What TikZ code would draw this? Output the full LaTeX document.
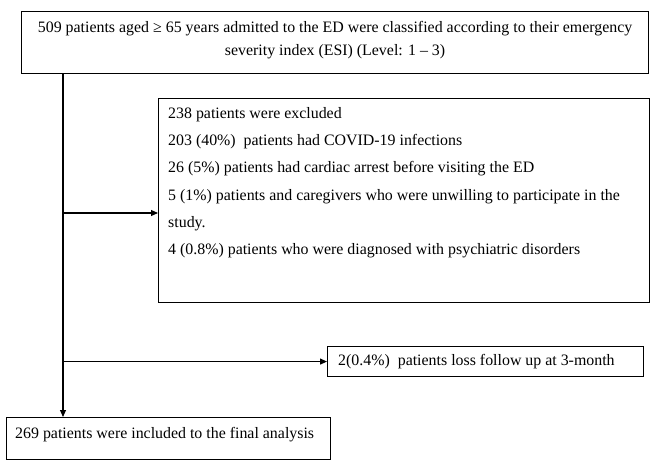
\documentclass[tikz,border=0pt]{standalone}
\usepackage{fontspec}
\setmainfont{Liberation Serif}
\usetikzlibrary{positioning,arrows.meta}

\begin{document}
\begin{tikzpicture}[x=1pt,y=-1pt,
  box/.style={rectangle,draw,line width=1.1pt,inner sep=0pt,anchor=north west},
  txt/.style={inner sep=0pt,font=\fontsize{15.9}{23}\selectfont},
  listtxt/.style={txt,align=left,font=\fontsize{15.9}{27.3}\selectfont},
  arr/.style={-{Triangle[length=7pt,width=6pt]},line width=1.1pt}]

\useasboundingbox (0,0) rectangle (669,470);

% boxes
\node[box,minimum width=627pt,minimum height=62pt] (esi) at (21,11) {};
\node[box,minimum width=491pt,minimum height=204pt] (excl) at (158,98) {};
\node[box,minimum width=316pt,minimum height=30pt] (loss) at (327,346) {};
\node[box,minimum width=324pt,minimum height=42pt] (final) at (6,417) {};

% texts
\node[txt,align=center,below=10pt of esi.north] (esitext)
  {509 patients aged ≥ 65 years admitted to the ED were classified according to their emergency\\
   severity index (ESI) (Level: 1 -- 3)};

\node[listtxt,below right=9pt and 10pt of excl.north west] (excltext)
  {238 patients were excluded\\
   203 (40\%)\ \ patients had COVID-19 infections\\
   26 (5\%) patients had cardiac arrest before visiting the ED\\
   5 (1\%) patients and caregivers who were unwilling to participate in the\\
   study.\\
   4 (0.8\%) patients who were diagnosed with psychiatric disorders};

\node[txt,right=11pt of loss.west] (losstext) {2(0.4\%)\ \ patients loss follow up at 3-month};

\node[txt,below right=10pt and 9pt of final.north west] (finaltext) {269 patients were included to the final analysis};

% connectors
\coordinate (trunk) at ([xshift=42pt]esi.south west);
\path (trunk |- 0,213) coordinate (split);
\draw[arr] (trunk) -- (trunk |- final.north);
\draw[arr] (split) -- (split -| excl.west);
\draw[arr] (trunk |- loss.west) -- (loss.west);

\end{tikzpicture}
\end{document}
